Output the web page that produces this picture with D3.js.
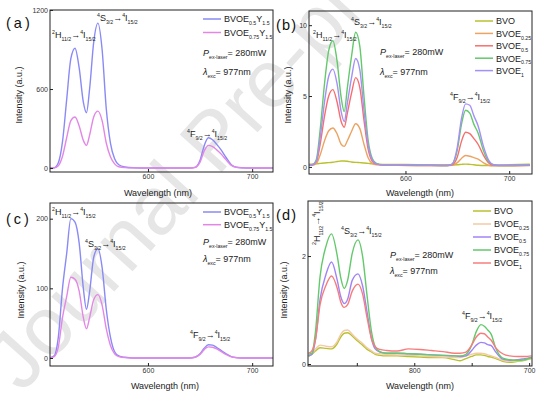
<!DOCTYPE html>
<html>
<head>
<meta charset="utf-8">
<script src="https://cdn.jsdelivr.net/npm/d3@7"></script>
<style>
body { margin: 0; background: #fff; }
svg { font-family: "Liberation Sans", Arial, sans-serif; }
</style>
</head>
<body>
<script>
// wavelength grids (nm)
var waveABC = [505,510,514,518,522,526,530,534,538,541, 544,548,552,556,560,564,568,572,578,586,
               600,620,640,645,650,654,658,662,666,670, 675,680,685,690,700,720];
var waveD = [508,511,514,518,523,528,533,536,539,542, 546,551,555,559,563,566,570,576,585,595,
             605,615,625,635,640,645,650,654,658,661, 664,667,671,677,683,690,696,702];

// (a) intensities
var aE05Y = [0,2,40,200,520,830,910,760,500,420, 600,960,1100,900,450,190,70,25,8,2,
             0,0,0,5,60,170,230,215,180,140, 80,25,6,2,0,0];
var aE075Y = [0,1,18,90,230,360,388,320,210,172, 250,390,432,360,190,85,32,10,3,1,
              0,0,0,4,45,130,172,162,138,108, 62,20,5,1,0,0];

// (b) intensities
var bBVO = [0.2,0.2,0.22,0.25,0.28,0.3,0.33,0.38,0.42,0.42, 0.4,0.35,0.32,0.3,0.28,0.25,0.22,0.2,0.18,0.17,
            0.17,0.15,0.14,0.14,0.15,0.18,0.2,0.18,0.15,0.12, 0.1,0.1,0.1,0.12,0.15,0.2];
var bE025 = [0.12,0.12,0.22,0.9,1.85,2.55,2.75,2.35,1.6,1.45, 1.85,2.5,3.05,2.7,1.6,0.65,0.25,0.15,0.12,0.12,
             0.1,0.1,0.1,0.12,0.3,0.6,0.8,0.75,0.65,0.55, 0.3,0.12,0.08,0.08,0.08,0.1];
var bE05 = [0.15,0.15,0.35,1.7,3.6,5.0,5.45,4.6,3.2,2.8, 3.8,5.2,6.3,5.6,3.3,1.25,0.4,0.2,0.15,0.15,
            0.12,0.1,0.1,0.15,0.7,1.8,2.45,2.35,2.0,1.6, 0.85,0.3,0.12,0.1,0.1,0.12];
var bE075 = [0.15,0.15,0.5,2.8,5.9,8.2,8.9,7.5,4.9,3.9, 5.6,7.8,9.5,8.5,5.0,1.9,0.6,0.25,0.15,0.15,
             0.15,0.12,0.1,0.2,1.2,3.0,4.0,3.8,3.0,2.4, 1.2,0.4,0.15,0.1,0.1,0.15];
var bE1 = [0.15,0.15,0.4,2.2,4.6,6.4,6.9,5.9,3.9,3.2, 4.5,6.3,7.65,6.85,4.0,1.55,0.5,0.22,0.15,0.15,
           0.15,0.12,0.1,0.2,1.4,3.4,4.45,4.35,3.6,2.9, 1.5,0.5,0.15,0.12,0.12,0.15];

// (c) intensities
var cE05Y = [0,3,30,100,150,200,195,165,100,70, 95,145,157,130,70,30,9,3,1,0,
             0,0,0,1,6,14,19,18.5,15,11, 6,2,0.5,0,0,0];
var cE075Y = [0,2,16,58,88,116,113,96,58,42, 58,84,91,76,42,18,6,2,0.5,0,
              0,0,0,1,5,12,16,15.5,13,9.5, 5,1.5,0.4,0,0,0];

// (d) intensities
var dBVO = [0.14,0.18,0.24,0.3,0.29,0.28,0.38,0.5,0.57,0.58, 0.52,0.42,0.35,0.27,0.22,0.18,0.16,0.15,0.15,0.14,
            0.13,0.12,0.12,0.08,0.06,0.1,0.14,0.17,0.17,0.16, 0.14,0.13,0.1,0.05,0.03,0.05,0.07,0.1];
var dE025 = [0.15,0.2,0.28,0.35,0.33,0.32,0.42,0.55,0.62,0.63, 0.55,0.45,0.38,0.3,0.24,0.2,0.19,0.18,0.17,0.16,
             0.15,0.14,0.13,0.12,0.12,0.15,0.18,0.2,0.2,0.19, 0.17,0.15,0.12,0.07,0.05,0.06,0.08,0.1];
var dE05 = [0.15,0.18,0.45,1.2,1.65,1.89,1.55,1.25,1.12,1.2, 1.55,1.67,1.45,0.95,0.45,0.28,0.22,0.2,0.2,0.19,
            0.18,0.17,0.16,0.15,0.14,0.15,0.25,0.35,0.4,0.39, 0.36,0.34,0.22,0.09,0.07,0.08,0.1,0.12];
var dE075 = [0.18,0.2,0.6,1.62,2.17,2.41,2.0,1.6,1.4,1.55, 2.05,2.3,2.0,1.25,0.57,0.32,0.23,0.2,0.2,0.19,
             0.18,0.17,0.16,0.15,0.15,0.18,0.35,0.6,0.73,0.7, 0.63,0.55,0.29,0.11,0.08,0.07,0.08,0.12];
var dE1 = [0.2,0.25,0.45,1.1,1.45,1.63,1.4,1.15,1.05,1.1, 1.35,1.48,1.3,0.85,0.45,0.32,0.27,0.25,0.24,0.28,
           0.27,0.25,0.23,0.2,0.2,0.22,0.35,0.5,0.57,0.56, 0.5,0.44,0.3,0.19,0.15,0.14,0.14,0.15];

// legend names (main text, subscript, main, subscript ...)
var namesAC = [["BVOE","0.5","Y","1.5"], ["BVOE","0.75","Y","1.5"]];
var namesBD = [["BVO"], ["BVOE","0.25"], ["BVOE","0.5"], ["BVOE","0.75"], ["BVOE","1"]];

var panels = [
  { id: "a", box: [50, 10, 273, 172], wave: waveABC, xd: [506, 720], yd: [-30, 1200], yt: [0, 600, 1200],
    xt: [600, 700], xfmt: d => d,
    series: [aE05Y, aE075Y], names: namesAC, colors: ["#8a8af6", "#e387e6"],
    leg: [203, 19, 13.5], cond: [203, 56, 75], lab: [6, 28, 3], ylab: [22, 95], xlab: [158, 196],
    trans: [["2","H","11/2",52,38], ["4","S","3/2",97,21], ["4","F","9/2",187,137]] },
  { id: "b", box: [309, 11, 532, 174], wave: waveABC, xd: [507, 722], yd: [-0.5, 11], yt: [0, 5, 10],
    xt: [600, 700], xfmt: d => d,
    series: [bBVO, bE025, bE05, bE075, bE1], names: namesBD,
    colors: ["#b9c22e", "#eba463", "#f76e6e", "#63c96b", "#a490f8"],
    leg: [475, 21, 12.4], cond: [380, 55, 75], lab: [276, 30, 1.2], ylab: [291, 95], xlab: [420, 196],
    trans: [["2","H","11/2",313,38], ["4","S","3/2",351,25], ["4","F","9/2",450,100]] },
  { id: "c", box: [50, 203, 273, 366], wave: waveABC, xd: [506, 720], yd: [-11.5, 222.5], yt: [0, 100, 200],
    xt: [600, 700], xfmt: d => d,
    series: [cE05Y, cE075Y], names: namesAC, colors: ["#8a8af6", "#e387e6"],
    leg: [203, 212, 12.7], cond: [203, 245, 262], lab: [6, 224, 3], ylab: [24, 290], xlab: [165, 389],
    trans: [["2","H","11/2",52,215], ["4","S","3/2",85,247], ["4","F","9/2",190,338]] },
  { id: "d", box: [308, 201, 532, 366], wave: waveD, xd: [507.5, 702.5], yd: [-0.037, 3.02], yt: [0, 2],
    xt: [550, 600, 650, 700], xfmt: d => d === 600 ? "800" : d === 700 ? "700" : "",
    series: [dBVO, dE025, dE05, dE075, dE1], names: namesBD,
    colors: ["#b9c22e", "#f2cba6", "#a084f6", "#63c96b", "#f77d7d"],
    leg: [473, 211, 13], cond: [390, 258, 274], lab: [276, 220, 1.2], ylab: [287, 290], xlab: [420, 389],
    trans: [["4","S","3/2",341,234], ["4","F","9/2",462,319]] }
];

var svg = d3.select("body").append("svg")
    .attr("width", 554)
    .attr("height", 396);

svg.append("rect").attr("width", 554).attr("height", 396).attr("fill", "#fff");

// watermark
svg.append("text")
    .attr("transform", "translate(22,394) rotate(-48)")
    .attr("font-size", 82)
    .attr("fill", "#e6e6e6")
    .text("Journal Pre-proof");

// text with sub/superscripts; parts = [text, "sub"|"sup"|null, italic?]
function rich(sel, x, y, size, parts) {
    var t = sel.append("text").attr("x", x).attr("y", y).attr("font-size", size).attr("fill", "#222");
    var cur = 0;
    parts.forEach(p => {
        var shift = p[1] === "sub" ? size * 0.32 : p[1] === "sup" ? -size * 0.42 : 0;
        t.append("tspan")
            .attr("dy", shift - cur)
            .attr("font-size", p[1] ? size * 0.58 : size)
            .attr("font-style", p[2] ? "italic" : null)
            .text(p[0]);
        cur = shift;
    });
    return t;
}

function transParts(s, L, j) {
    return [[s, "sup"], [L], [j, "sub"], ["\u2192"], ["4", "sup"], ["I"], ["15/2", "sub"]];
}

function drawPanel(p) {
    var g = svg.append("g");
    var x = d3.scaleLinear().domain(p.xd).range([p.box[0], p.box[2]]);
    var y = d3.scaleLinear().domain(p.yd).range([p.box[3], p.box[1]]);

    g.append("clipPath").attr("id", "clip-" + p.id)
        .append("rect")
        .attr("x", p.box[0]).attr("y", p.box[1])
        .attr("width", p.box[2] - p.box[0]).attr("height", p.box[3] - p.box[1]);

    var line = d3.line()
        .x((d, i) => x(p.wave[i]))
        .y(d => y(d))
        .curve(d3.curveMonotoneX);

    g.append("g").attr("clip-path", "url(#clip-" + p.id + ")")
        .selectAll("path")
        .data(p.series).enter()
        .append("path")
        .attr("d", line)
        .attr("fill", "none")
        .attr("stroke", (d, i) => p.colors[i])
        .attr("stroke-width", 1.4);

    // axes
    var xa = g.append("g")
        .attr("transform", "translate(0," + p.box[3] + ")")
        .call(d3.axisBottom(x).tickValues(p.xt).tickFormat(p.xfmt).tickSizeInner(-3).tickSizeOuter(0).tickPadding(2));
    var ya = g.append("g")
        .attr("transform", "translate(" + p.box[0] + ",0)")
        .call(d3.axisLeft(y).tickValues(p.yt).tickFormat(d3.format("d")).tickSizeInner(-3).tickSizeOuter(0).tickPadding(2));
    [xa, ya].forEach(a => {
        a.select(".domain").remove();
        a.selectAll("text").attr("font-size", 7).attr("fill", "#333").attr("font-family", null);
        a.selectAll("line").attr("stroke", "#222");
    });

    g.append("rect")
        .attr("x", p.box[0]).attr("y", p.box[1])
        .attr("width", p.box[2] - p.box[0]).attr("height", p.box[3] - p.box[1])
        .attr("fill", "none")
        .attr("stroke", "#222")
        .attr("stroke-width", 1);

    // axis titles
    g.append("text")
        .attr("transform", "translate(" + p.ylab[0] + "," + p.ylab[1] + ") rotate(-90)")
        .attr("text-anchor", "middle")
        .attr("font-size", 9)
        .attr("fill", "#222")
        .text("Intensity (a.u.)");
    g.append("text")
        .attr("x", p.xlab[0]).attr("y", p.xlab[1])
        .attr("text-anchor", "middle")
        .attr("font-size", 9)
        .attr("fill", "#222")
        .text("Wavelength (nm)");

    // panel letter
    g.append("text")
        .attr("x", p.lab[0]).attr("y", p.lab[1])
        .attr("font-size", 14.5)
        .attr("letter-spacing", p.lab[2])
        .attr("fill", "#111")
        .text("(" + p.id + ")");

    // legend
    p.names.forEach((n, i) => {
        var ly = p.leg[1] + i * p.leg[2];
        g.append("line")
            .attr("x1", p.leg[0]).attr("x2", p.leg[0] + 18)
            .attr("y1", ly).attr("y2", ly)
            .attr("stroke", p.colors[i])
            .attr("stroke-width", 1.5);
        rich(g, p.leg[0] + 21, ly + 3.3, 9, n.map((s, k) => [s, k % 2 ? "sub" : null]));
    });

    // measuring conditions
    rich(g, p.cond[0], p.cond[1], 9, [["P", null, true], ["ex-laser", "sub"], ["= 280mW"]]);
    rich(g, p.cond[0], p.cond[2], 9, [["\u03bb", null, true], ["exc", "sub"], ["= 977nm"]]);

    // transitions
    p.trans.forEach(t => {
        rich(g, t[3], t[4], 9, transParts(t[0], t[1], t[2]));
    });
}

panels.forEach(p => drawPanel(p));

// vertical transition label in (d)
rich(svg.append("g").attr("transform", "translate(320,245) rotate(-90)"), 0, 0, 9, transParts("2", "H", "11/2"));
</script>
</body>
</html>
